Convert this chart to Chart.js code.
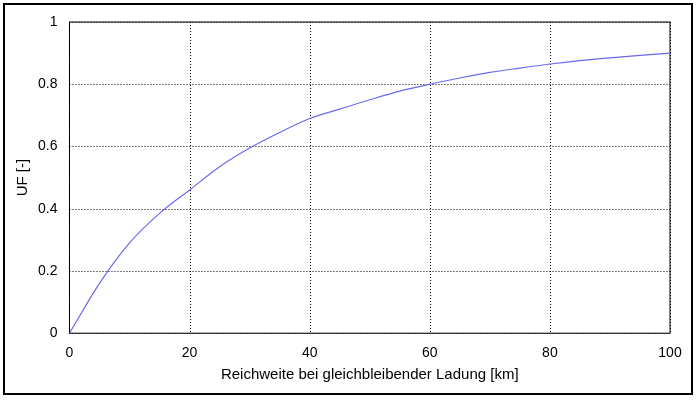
<!DOCTYPE html>
<html>
<head>
<meta charset="utf-8">
<script src="https://cdn.jsdelivr.net/npm/chart.js"></script>
<style>
body { margin: 0; background: #fff; }
#frame { position: absolute; left: 3px; top: 3px; width: 686px; height: 388px; border: 2px solid #000; }
#wrap { position: absolute; left: 0; top: 0; width: 696px; height: 400px; }
</style>
</head>
<body>
<div id="frame"></div>
<div id="wrap"><canvas id="chart"></canvas></div>
<script>
// range in km and utility factor
const reichweite = [0, 5, 10, 15, 20, 25, 30, 35, 40, 45, 50, 55, 60, 65, 70, 75, 80, 85, 90, 95, 100];
const uf = [0, 0.16, 0.29, 0.385, 0.46, 0.535, 0.595, 0.645, 0.69, 0.72, 0.75, 0.778, 0.80, 0.82, 0.838, 0.852, 0.865, 0.876, 0.885, 0.893, 0.90];
const xTicks = [0, 20, 40, 60, 80, 100];

const points = reichweite.map((x, i) => ({ x: x, y: uf[i] }));
const fontSpec = { family: 'Arial, Liberation Sans', size: 14 };

new Chart(document.getElementById('chart'), {
    type: 'line',
    data: {
        datasets: [{
            data: points,
            borderColor: '#6a6af0',
            borderWidth: 1.2,
            pointRadius: 0,
            cubicInterpolationMode: 'monotone',
            fill: false
        }]
    },
    options: {
        responsive: true,
        maintainAspectRatio: false,
        animation: false,
        layout: { padding: { left: 12, right: 26, top: 22, bottom: 16 } },
        plugins: { legend: { display: false }, tooltip: { enabled: false } },
        scales: {
            x: {
                type: 'linear',
                min: 0, max: 100,
                afterBuildTicks: axis => { axis.ticks = xTicks.map(v => ({ value: v })); },
                grid: { display: false },
                border: { display: false },
                ticks: { color: '#000', font: fontSpec, padding: 4 },
                title: { display: true, text: 'Reichweite bei gleichbleibender Ladung [km]', color: '#000', font: { family: 'Arial, Liberation Sans', size: 15 }, padding: 0 }
            },
            y: {
                min: 0, max: 1,
                grid: { display: false },
                border: { display: false },
                ticks: { stepSize: 0.2, color: '#000', font: fontSpec, padding: 4,
                    callback: v => String(Math.round(v * 10) / 10) },
                title: { display: true, text: 'UF [-]', color: '#000', font: { family: 'Arial, Liberation Sans', size: 15 }, padding: 2 }
            }
        }
    },
    plugins: [{
        id: 'dottedGrid',
        beforeDatasetsDraw(chart) {
            const a = chart.chartArea, c = chart.ctx;
            const xs = chart.scales.x, ys = chart.scales.y;
            c.save();
            c.strokeStyle = '#000';
            c.lineWidth = 1;
            c.setLineDash([1, 2]);
            xs.ticks.forEach(t => {
                const px = Math.round(xs.getPixelForValue(t.value)) + 0.5;
                c.beginPath(); c.moveTo(px, a.top); c.lineTo(px, a.bottom); c.stroke();
            });
            ys.ticks.forEach(t => {
                const py = Math.round(ys.getPixelForValue(t.value)) + 0.5;
                c.beginPath(); c.moveTo(a.left, py); c.lineTo(a.right, py); c.stroke();
            });
            c.setLineDash([]);
            c.strokeRect(a.left, a.top, a.right - a.left, a.bottom - a.top);
            c.restore();
        }
    }]
});
</script>
</body>
</html>
